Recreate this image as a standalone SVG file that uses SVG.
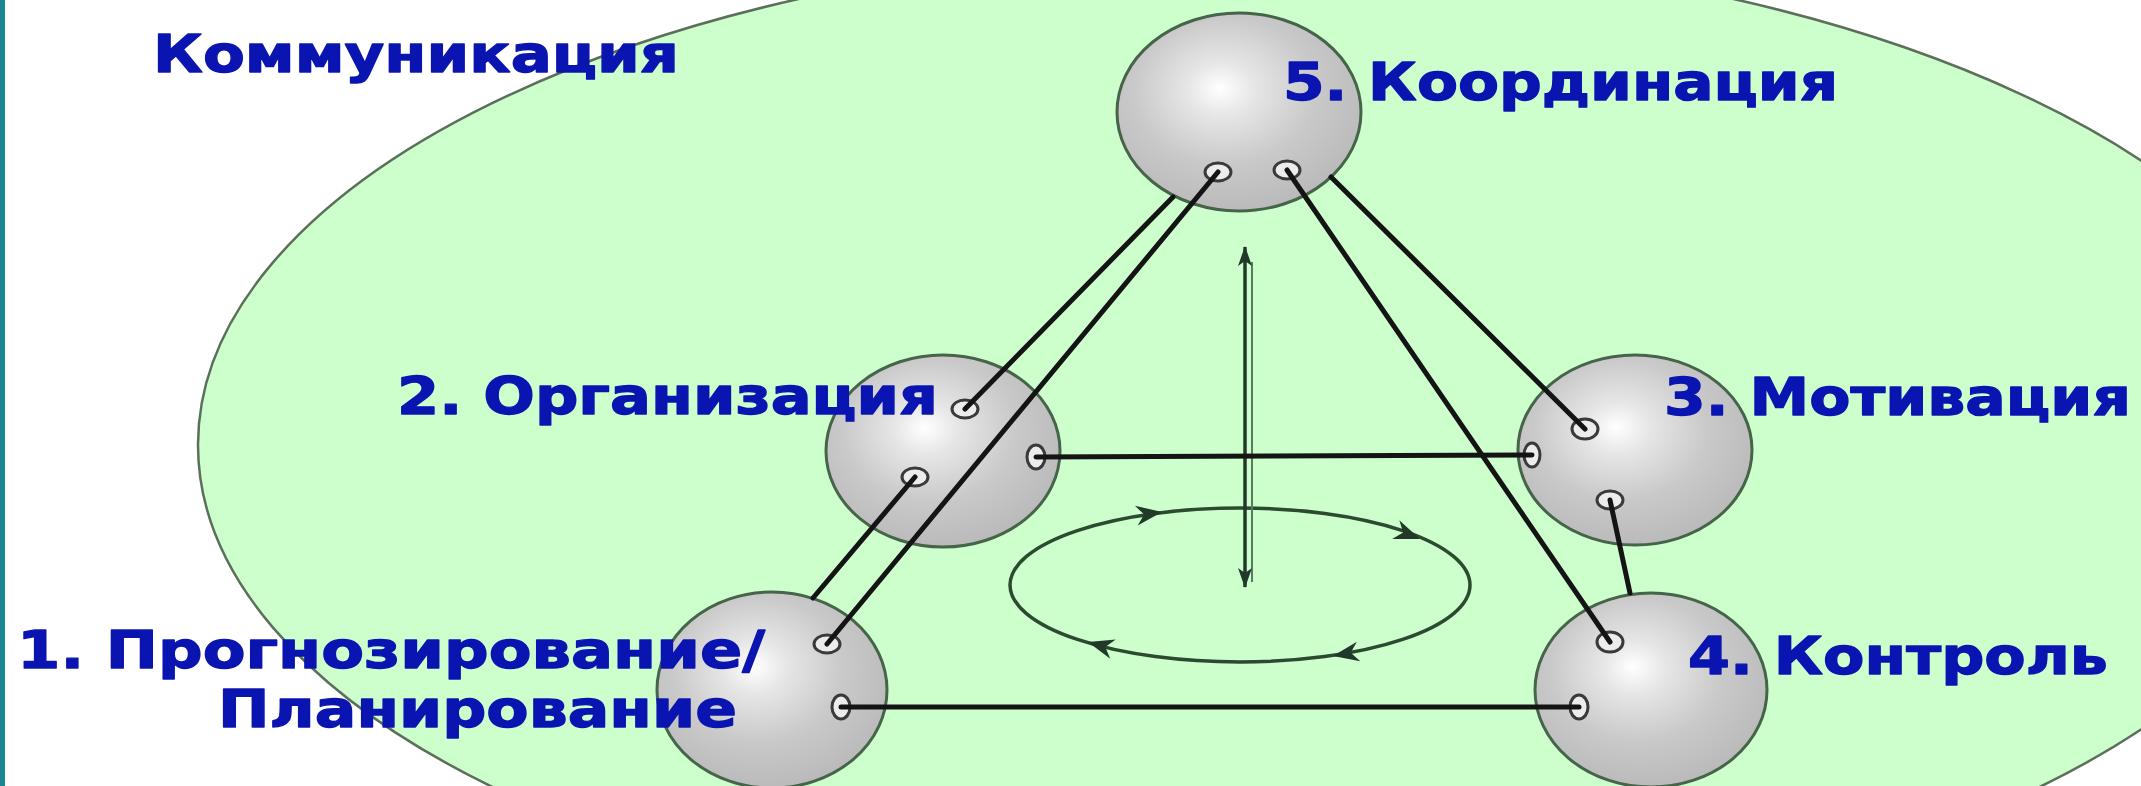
<svg xmlns="http://www.w3.org/2000/svg" width="2141" height="786" viewBox="0 0 2141 786">
<defs>
<radialGradient id="ballGrad" cx="0.45" cy="0.4" r="0.62" fx="0.42" fy="0.38">
<stop offset="0" stop-color="#ffffff"/>
<stop offset="0.22" stop-color="#e6e6e6"/>
<stop offset="0.6" stop-color="#c9c9c9"/>
<stop offset="1" stop-color="#b9b9b9"/>
</radialGradient>
<path id="cycHead" d="M0,0 L-26,-10 L-18,0 L-26,10 Z"/>
<marker id="vArr" viewBox="0 0 20 14" refX="19" refY="7" markerWidth="20" markerHeight="14" markerUnits="userSpaceOnUse" orient="auto-start-reverse">
<path d="M0,0 L20,7 L0,14 L5,7 Z" fill="#22392a"/>
</marker>
</defs>
<style>
.lbl{font-family:"DejaVu Sans","Liberation Sans",sans-serif;font-weight:bold;font-size:52px;fill:#0a14b0;stroke:#0a14b0;stroke-width:1.3;stroke-linejoin:round}
.ball{fill:url(#ballGrad);stroke:#46644a;stroke-width:3}
.hole{fill:#ececec;stroke:#3a3a3a;stroke-width:3}
.wire{stroke:#141414;stroke-width:5;stroke-linecap:round;fill:none}
.cyc{fill:none;stroke:#2b4a2f;stroke-width:3.5}
</style>
<rect x="0" y="0" width="2141" height="786" fill="#ffffff"/>
<rect x="0" y="0" width="5" height="786" fill="#1d8794"/>

<g id="communication">
<ellipse cx="1266" cy="445" rx="1068" ry="496" fill="#ccffcc" stroke="#5b6f5b" stroke-width="2.5"/>
<text class="lbl" x="153" y="72" font-size="50" textLength="526" lengthAdjust="spacingAndGlyphs">Коммуникация</text>
</g>

<g id="cycle">
<ellipse class="cyc" cx="1240" cy="585" rx="230" ry="77"/>
<g fill="#22392a">
<use href="#cycHead" transform="translate(1162,512) rotate(-8)"/>
<use href="#cycHead" transform="translate(1420,539) rotate(21)"/>
<use href="#cycHead" transform="translate(1333,656) rotate(170)"/>
<use href="#cycHead" transform="translate(1088,642) rotate(196)"/>
</g>
<line x1="1252" y1="262" x2="1252" y2="582" stroke="#5a7a62" stroke-width="2"/>
<line x1="1245" y1="247" x2="1245" y2="587" stroke="#22392a" stroke-width="3.5" marker-start="url(#vArr)" marker-end="url(#vArr)"/>
</g>

<g id="node-5">
<ellipse class="ball" cx="1239" cy="112" rx="122" ry="99"/>
<ellipse class="hole" cx="1218" cy="172" rx="13" ry="9"/>
<ellipse class="hole" cx="1287" cy="170" rx="13" ry="9"/>
<text class="lbl" x="1283" y="100" textLength="555" lengthAdjust="spacingAndGlyphs">5. Координация</text>
</g>

<g id="node-2">
<ellipse class="ball" cx="943" cy="451" rx="117" ry="96"/>
<ellipse class="hole" cx="965" cy="409" rx="13" ry="9"/>
<ellipse class="hole" cx="915" cy="477" rx="13" ry="9"/>
<ellipse class="hole" cx="1036" cy="457" rx="9" ry="12"/>
<text class="lbl" x="397" y="414" textLength="541" lengthAdjust="spacingAndGlyphs">2. Организация</text>
</g>

<g id="node-3">
<ellipse class="ball" cx="1635" cy="450" rx="117" ry="95"/>
<ellipse class="hole" cx="1585" cy="429" rx="13" ry="10"/>
<ellipse class="hole" cx="1532" cy="455" rx="8" ry="12"/>
<ellipse class="hole" cx="1610" cy="500" rx="13" ry="9"/>
<text class="lbl" x="1664" y="415" textLength="467" lengthAdjust="spacingAndGlyphs">3. Мотивация</text>
</g>

<g id="node-4">
<ellipse class="ball" cx="1651" cy="690" rx="116" ry="97"/>
<ellipse class="hole" cx="1610" cy="642" rx="13" ry="10"/>
<ellipse class="hole" cx="1579" cy="707" rx="9" ry="12"/>
<text class="lbl" x="1688" y="674" textLength="420" lengthAdjust="spacingAndGlyphs">4. Контроль</text>
</g>

<g id="node-1">
<ellipse class="ball" cx="772" cy="690" rx="115" ry="98"/>
<ellipse class="hole" cx="827" cy="644" rx="13" ry="9"/>
<ellipse class="hole" cx="841" cy="707" rx="9" ry="12"/>
<text class="lbl" x="17" y="668" textLength="748" lengthAdjust="spacingAndGlyphs">1. Прогнозирование/</text>
<text class="lbl" x="218" y="727" textLength="519" lengthAdjust="spacingAndGlyphs">Планирование</text>
</g>

<g id="connectors" class="wire">
<line x1="1173" y1="197" x2="965" y2="409"/>
<line x1="1218" y1="172" x2="827" y2="644"/>
<line x1="915" y1="477" x2="813" y2="598"/>
<line x1="1036" y1="457" x2="1532" y2="455"/>
<line x1="1287" y1="170" x2="1610" y2="642"/>
<line x1="1331" y1="177" x2="1585" y2="429"/>
<line x1="1610" y1="500" x2="1630" y2="593"/>
<line x1="841" y1="707" x2="1579" y2="707"/>
</g>
</svg>
